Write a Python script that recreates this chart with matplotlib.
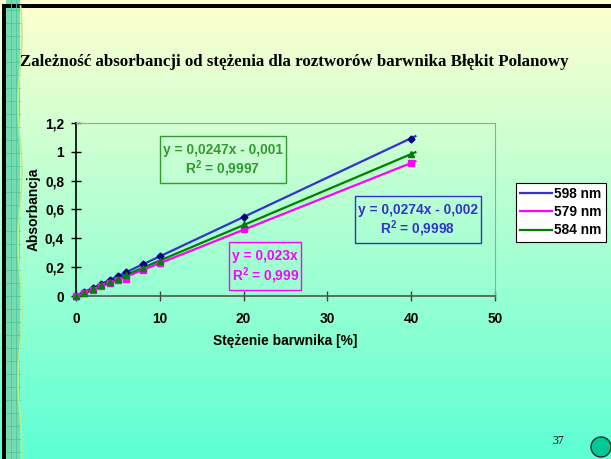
#!/usr/bin/env python3
"""Absorbance vs. dye concentration (Błękit Polanowy) - slide recreation."""

import matplotlib
matplotlib.use("Agg")
import matplotlib.pyplot as plt
import numpy as np
from matplotlib.patches import Rectangle, Circle
from matplotlib.lines import Line2D

plt.rcParams["mathtext.fontset"] = "custom"
plt.rcParams["mathtext.rm"] = "Liberation Sans:bold"
plt.rcParams["mathtext.it"] = "Liberation Sans:bold"
plt.rcParams["mathtext.bf"] = "Liberation Sans:bold"

W, H = 611, 459

# ---- data ----
conc = [0, 1, 2, 3, 4, 5, 6, 8, 10, 20, 40]
abs_598 = [0.0, 0.026, 0.053, 0.080, 0.112, 0.140, 0.166, 0.222, 0.280, 0.550, 1.092]
abs_579 = [0.0, 0.020, 0.044, 0.068, 0.090, 0.108, 0.118, 0.180, 0.232, 0.468, 0.920]
abs_584 = [0.0, 0.023, 0.048, 0.073, 0.097, 0.121, 0.146, 0.196, 0.246, 0.498, 0.982]

series_names = ["598 nm", "579 nm", "584 nm"]
eq_texts = ["y = 0,0274x - 0,002\nR$^{2}$ = 0,9998",
            "y = 0,023x\nR$^{2}$ = 0,999",
            "y = 0,0247x - 0,001\nR$^{2}$ = 0,9997"]
x_ticks = [0, 10, 20, 30, 40, 50]
y_ticks = [0, 0.2, 0.4, 0.6, 0.8, 1.0, 1.2]
y_ticklabels = ["0", "0,2", "0,4", "0,6", "0,8", "1", "1,2"]

TITLE = "Zależność absorbancji od stężenia dla roztworów barwnika Błękit Polanowy"

FS = 9.9  # chart text size


def fx(x):
    return x / W


def fy(y):
    return 1 - y / H


fig = plt.figure(figsize=(W / 100, H / 100), dpi=100)

# ---- slide background: yellow -> aquamarine gradient ----
bg = fig.add_axes([0, 0, 1, 1], zorder=-10)
top = np.array([255, 255, 208]) / 255
bot = np.array([92, 255, 212]) / 255
t = np.linspace(0, 1, 256)[:, None]
grad = top * (1 - t) + bot * t
bg.imshow(grad[:, None, :].repeat(2, axis=1), aspect="auto", extent=[0, W, H, 0])
bg.set_xlim(0, W)
bg.set_ylim(H, 0)
bg.axis("off")

# left decorative strip with grid pattern
bg.add_patch(Rectangle((6, 0), 14, H, facecolor="#74dcb0", edgecolor="none"))
for yy in range(10, H, 13):
    bg.plot([6, 20], [yy, yy], color="#52c69c", lw=0.6)
for xx in (11, 16):
    bg.plot([xx, xx], [0, H], color="#52c69c", lw=0.6)
wave_y = np.linspace(6, H, 60)
bg.plot(20 + 2.0 * np.sin(wave_y / 22.0), wave_y, color="#b8f08a", lw=1.2)
# black border top and left
bg.add_patch(Rectangle((2, 4), W, 3.5, facecolor="black", edgecolor="none"))
bg.add_patch(Rectangle((2, 4), 4, H, facecolor="black", edgecolor="none"))

# page number and circle
bg.text(558, 441, "37", fontsize=8.5, family="Liberation Serif", ha="center", va="center")
bg.add_patch(Circle((601, 447), 10, facecolor="#00c896", edgecolor="#203030", lw=1.0))

fig.text(fx(20), fy(62), TITLE, fontsize=12.2, fontweight="bold",
         family="Liberation Serif", ha="left", va="center")

# ---- chart ----
ax = fig.add_axes([fx(76), fy(296), fx(495) - fx(76), fy(123) - fy(296)])
ax.set_facecolor("none")
ax.set_xlim(0, 50)
ax.set_ylim(0, 1.2)

colors = ["#3333cc", "#ff00ff", "#008000"]
mcolors = ["#000080", "#ff00ff", "#008000"]
markers = ["D", "s", "^"]
msizes = [3.5, 5, 5]
data = [abs_598, abs_579, abs_584]

x = np.array(conc, dtype=float)
xfit = np.linspace(0, 40.5, 50)
handles = []
for ys, c, mc, m, ms, name in zip(data, colors, mcolors, markers, msizes, series_names):
    ys = np.array(ys)
    k, b = np.polyfit(x, ys, 1)
    ax.plot(xfit, k * xfit + b, color=c, lw=1.6, zorder=3, clip_on=False)
    ax.plot(x, ys, linestyle="none", marker=m, ms=ms, color=mc, zorder=4, clip_on=False)
    handles.append(Line2D([], [], color=c, lw=1.6, label=name))

ax.set_xticks(x_ticks)
ax.set_xticklabels([str(v) for v in x_ticks])
ax.set_yticks(y_ticks)
ax.set_yticklabels(y_ticklabels)
ax.tick_params(direction="inout", length=7, width=1, labelsize=FS, pad=5)
for lab in ax.get_xticklabels() + ax.get_yticklabels():
    lab.set_fontweight("bold")
    lab.set_family("Liberation Sans")
ax.tick_params(axis="x", pad=8, colors="#404040", labelcolor="black")

ax.spines["left"].set_color("black")
ax.spines["left"].set_linewidth(1.2)
ax.spines["bottom"].set_color("#4a5a52")
ax.spines["bottom"].set_linewidth(1.2)
for s in ("top", "right"):
    ax.spines[s].set_color("#a0a0a0")
    ax.spines[s].set_linewidth(0.8)

ax.set_xlabel("Stężenie barwnika [%]", fontsize=FS, fontweight="bold",
              family="Liberation Sans", labelpad=6)
ax.set_ylabel("Absorbancja", fontsize=FS, fontweight="bold",
              family="Liberation Sans", labelpad=3)

# equation boxes (pixel positions on the slide)
box_specs = [
    ((355, 196, 481, 243), "#3333cc", "center"),
    ((229, 242, 301, 290), "#ff00ff", "left"),
    ((160, 136, 286, 183), "#339933", "center"),
]

for (bx, col, align), txt in zip(box_specs, eq_texts):
    x0, y0, x1, y1 = bx
    fig.patches.append(Rectangle((fx(x0), fy(y1)), fx(x1) - fx(x0), fy(y0) - fy(y1),
                                 transform=fig.transFigure, fill=False,
                                 edgecolor=col, lw=1.0, zorder=5))
    if align == "center":
        tx, ha = fx((x0 + x1) / 2), "center"
    else:
        tx, ha = fx(x0 + 3), "left"
    fig.text(tx, fy((y0 + y1) / 2 + 1.5), txt, color=col, fontsize=FS, fontweight="bold",
             family="Liberation Sans", ha=ha, va="center", multialignment=align,
             linespacing=1.1, zorder=6)

leg = ax.legend(handles=handles, loc="upper left", bbox_to_anchor=(fx(516), fy(183)),
                bbox_transform=fig.transFigure, borderaxespad=0, fancybox=False,
                edgecolor="black", framealpha=1, handlelength=2.3, handletextpad=0.2,
                labelspacing=0.3, borderpad=0.3,
                prop={"family": "Liberation Sans", "weight": "bold", "size": FS})
leg.get_frame().set_linewidth(0.8)

fig.savefig("out.png", dpi=100)
